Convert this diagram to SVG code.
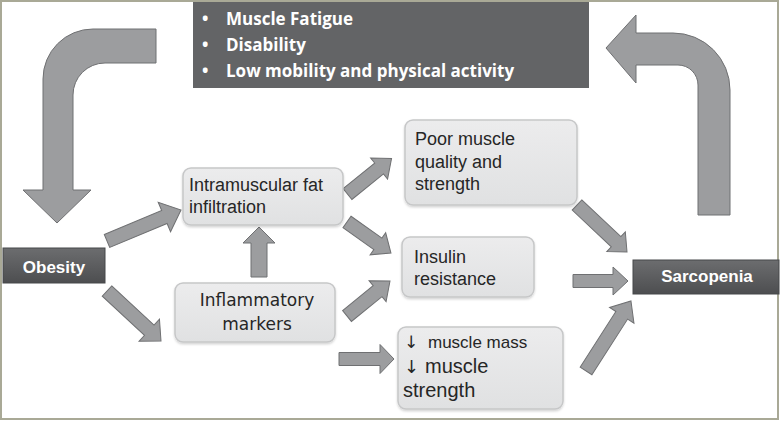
<svg xmlns="http://www.w3.org/2000/svg" width="780" height="423" viewBox="0 0 780 423">
<defs>
<style>
.arr{fill:#9c9d9f;stroke:#6f7072;stroke-width:1;stroke-linejoin:miter}
.lbox{fill:url(#lg);stroke:#c6c7c8;stroke-width:1.5;filter:url(#sh)}
.lt{font-family:"Liberation Sans",Arial,sans-serif;font-size:18px;fill:#262626}
.ar{font-family:"DejaVu Sans",sans-serif;fill:#262626}
.dt{font-family:"Liberation Sans",Arial,sans-serif;font-weight:bold;font-size:17px;fill:#ffffff;text-anchor:middle}
.tt{font-family:"Open Sans","Liberation Sans",sans-serif;font-weight:bold;font-size:17px;fill:#ffffff}
</style>
<linearGradient id="lg" x1="0" y1="0" x2="0" y2="1">
<stop offset="0" stop-color="#ececed"/>
<stop offset="1" stop-color="#e0e1e2"/>
</linearGradient>
<linearGradient id="dg" x1="0" y1="0" x2="0" y2="1">
<stop offset="0" stop-color="#6c6d6f"/>
<stop offset="1" stop-color="#4d4e50"/>
</linearGradient>
<filter id="sh" x="-10%" y="-10%" width="120%" height="130%">
<feDropShadow dx="0" dy="1.5" stdDeviation="1.2" flood-color="#000" flood-opacity="0.18"/>
</filter>
</defs>
<rect x="1" y="1" width="777" height="418" fill="#ffffff" stroke="#a9a996" stroke-width="2"/>

<g id="connectors">
<path class="arr" d="M156,29 L93,29 A50,50 0 0 0 43,79 L43,190 L23,190 L57,223 L91,190 L73,190 L73,95 A32,32 0 0 1 105,63 L156,63 Z"/>
<path class="arr" d="M636,33 L673,33 A57,57 0 0 1 730,90 L730,215 L698,215 L698,85 A20,20 0 0 0 678,65 L636,65 L636,83 L606,48 L636,15 Z"/>
<polygon class="arr" transform="translate(107,241) rotate(-22.7)" points="0,-7 62.2,-7 62.2,-16 80.2,0 62.2,16 62.2,7 0,7"/>
<polygon class="arr" transform="translate(107,291) rotate(42.8)" points="0,-7 57.6,-7 57.6,-15 73.6,0 57.6,15 57.6,7 0,7"/>
<polygon class="arr" transform="translate(259,277) rotate(-90)" points="0,-8 34,-8 34,-16 50,0 34,16 34,8 0,8"/>
<polygon class="arr" transform="translate(347.5,194) rotate(-38.9)" points="0,-7 40.6,-7 40.6,-13.5 56.6,0 40.6,13.5 40.6,7 0,7"/>
<polygon class="arr" transform="translate(347,222) rotate(35.2)" points="0,-7 37.8,-7 37.8,-13.5 53.8,0 37.8,13.5 37.8,7 0,7"/>
<polygon class="arr" transform="translate(347,316) rotate(-39.1)" points="0,-7 39.4,-7 39.4,-13.5 55.4,0 39.4,13.5 39.4,7 0,7"/>
<polygon class="arr" transform="translate(339,359)" points="0,-6.5 41,-6.5 41,-14.5 55,0 41,14.5 41,6.5 0,6.5"/>
<polygon class="arr" transform="translate(577,205) rotate(43.2)" points="0,-7 53.6,-7 53.6,-13.5 68.6,0 53.6,13.5 53.6,7 0,7"/>
<polygon class="arr" transform="translate(573,281)" points="0,-6.5 40,-6.5 40,-14 55,0 40,14 40,6.5 0,6.5"/>
<polygon class="arr" transform="translate(586,371) rotate(-57.3)" points="0,-7 66.2,-7 66.2,-14.5 83.2,0 66.2,14.5 66.2,7 0,7"/>
</g>

<g id="consequences">
<rect x="193" y="2" width="396" height="86" fill="#636466"/>
<text class="tt" x="202" y="25">•</text>
<text class="tt" x="226" y="25">Muscle Fatigue</text>
<text class="tt" x="202" y="51">•</text>
<text class="tt" x="226" y="51">Disability</text>
<text class="tt" x="202" y="77">•</text>
<text class="tt" x="226" y="77">Low mobility and physical activity</text>
</g>

<g id="obesity">
<rect x="3" y="248" width="102" height="35" fill="url(#dg)" stroke="#47484a" stroke-width="1"/>
<text class="dt" x="54" y="273">Obesity</text>
</g>

<g id="sarcopenia">
<rect x="633" y="260" width="146" height="34" fill="url(#dg)" stroke="#47484a" stroke-width="1"/>
<text class="dt" x="707" y="282">Sarcopenia</text>
</g>

<g id="intramuscular">
<rect class="lbox" x="183" y="168" width="160" height="57" rx="8"/>
<text class="lt" x="189" y="191">Intramuscular fat</text>
<text class="lt" x="189" y="213">infiltration</text>
</g>

<g id="inflammatory">
<rect class="lbox" x="175" y="283" width="160" height="59" rx="8"/>
<text x="257" y="306" text-anchor="middle" style="font-family:'DejaVu Sans',sans-serif;font-size:17px;fill:#262626">Inflammatory</text>
<text x="257" y="330" text-anchor="middle" style="font-family:'DejaVu Sans',sans-serif;font-size:17px;fill:#262626">markers</text>
</g>

<g id="poor-quality">
<rect class="lbox" x="405" y="120" width="172" height="85" rx="8"/>
<text class="lt" x="415" y="145">Poor muscle</text>
<text class="lt" x="415" y="167.5">quality and</text>
<text class="lt" x="415" y="190">strength</text>
</g>

<g id="insulin">
<rect class="lbox" x="402" y="237" width="132" height="60" rx="8"/>
<text class="lt" x="414" y="263">Insulin</text>
<text class="lt" x="414" y="285">resistance</text>
</g>

<g id="muscle-mass">
<rect class="lbox" x="398" y="327" width="165" height="82" rx="8"/>
<text class="lt" x="404" y="348" style="font-size:17px"><tspan class="ar" style="font-size:17px">↓</tspan> <tspan x="428">muscle mass</tspan></text>
<text class="lt" x="404" y="373" style="font-size:20px"><tspan class="ar" style="font-size:18px">↓</tspan> <tspan x="425">muscle</tspan></text>
<text class="lt" x="403" y="397" style="font-size:20px">strength</text>
</g>
</svg>
